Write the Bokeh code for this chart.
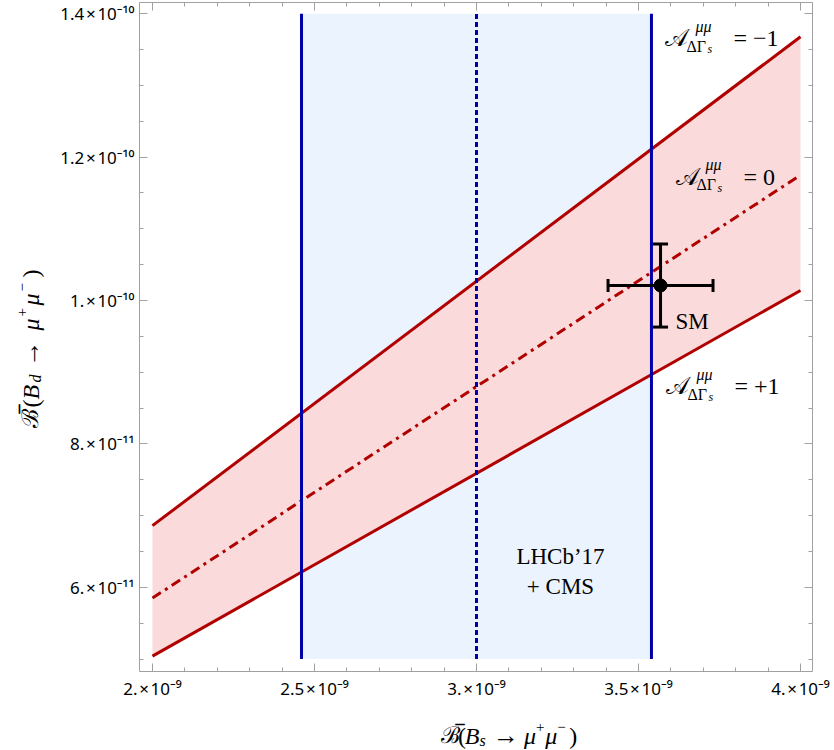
import math
from bokeh.plotting import figure
from bokeh.layouts import row, column
from bokeh.models import (Range1d, LinearAxis, FixedTicker, CustomJSTickFormatter,
                          Label, Whisker, ColumnDataSource, TeeHead)
from bokeh.embed import file_html
from bokeh.resources import INLINE

# ---------------- data ----------------
bs_values = [2.0e-9, 4.0e-9]                 # B(Bs->mumu) range of the band
bd_A_minus1 = [6.86e-11, 1.368e-10]          # A_DeltaGamma = -1
bd_A_zero = [5.85e-11, 1.175e-10]            # A_DeltaGamma = 0
bd_A_plus1 = [5.04e-11, 1.014e-10]           # A_DeltaGamma = +1

exp_bs_lo = [2.46e-9]
exp_bs_central = [3.00e-9]
exp_bs_hi = [3.54e-9]
exp_bd_lo = [5.0e-11]
exp_bd_hi = [1.4e-10]

sm_bs = [3.568e-9]
sm_bs_err = [0.162e-9]
sm_bd = [1.021e-10]
sm_bd_err = [0.058e-10]

x_ticks = [2.0e-9, 2.5e-9, 3.0e-9, 3.5e-9, 4.0e-9]
x_tick_labels = ["2.\u200a×\u200a10⁻⁹", "2.5\u200a×\u200a10⁻⁹", "3.\u200a×\u200a10⁻⁹",
                 "3.5\u200a×\u200a10⁻⁹", "4.\u200a×\u200a10⁻⁹"]
x_minor = [2.1e-9, 2.2e-9, 2.3e-9, 2.4e-9, 2.6e-9, 2.7e-9, 2.8e-9, 2.9e-9,
           3.1e-9, 3.2e-9, 3.3e-9, 3.4e-9, 3.6e-9, 3.7e-9, 3.8e-9, 3.9e-9]
y_ticks = [6.0e-11, 8.0e-11, 1.0e-10, 1.2e-10, 1.4e-10]
y_tick_labels = ["6.\u200a×\u200a10⁻¹¹", "8.\u200a×\u200a10⁻¹¹", "1.\u200a×\u200a10⁻¹⁰",
                 "1.2\u200a×\u200a10⁻¹⁰", "1.4\u200a×\u200a10⁻¹⁰"]
y_minor = [5.0e-11, 5.5e-11, 6.5e-11, 7.0e-11, 7.5e-11, 8.5e-11, 9.0e-11, 9.5e-11,
           1.05e-10, 1.10e-10, 1.15e-10, 1.25e-10, 1.30e-10, 1.35e-10]

RED = "#b00000"
BLUE = "#0000aa"
PINK = "#fadada"
LIGHTBLUE = "#ebf4fe"
GRAY = "#a0a0a0"
SERIF = "Liberation Serif"
TICKFONT = "Noto Sans"

YTITLE_W = 48
MAIN_W = 834 - YTITLE_W
MAIN_H = 702
XTITLE_H = 750 - MAIN_H

p = figure(width=MAIN_W, height=MAIN_H,
           x_range=Range1d(1.96e-9, 4.037e-9),
           y_range=Range1d(4.826e-11, 1.4157e-10),
           output_backend="svg", toolbar_location=None,
           min_border_left=139 - YTITLE_W, min_border_right=22,
           min_border_top=2, min_border_bottom=MAIN_H - 673)
p.xgrid.visible = False
p.ygrid.visible = False
p.outline_line_color = None
p.background_fill_color = "white"
p.border_fill_color = "white"

fmt_code = """
let best = 0; let bd = Infinity;
for (let i = 0; i < tvals.length; i++) {
  const d = Math.abs(tvals[i] - tick);
  if (d < bd) { bd = d; best = i; }
}
return tlabels[best];
"""


def style_axis(ax, ticks, minor, labels):
    ax.ticker = FixedTicker(ticks=ticks, minor_ticks=minor)
    ax.axis_line_color = GRAY
    ax.major_tick_line_color = GRAY
    ax.minor_tick_line_color = GRAY
    ax.major_tick_in = 8
    ax.major_tick_out = 0
    ax.minor_tick_in = 4
    ax.minor_tick_out = 0
    if labels is None:
        ax.formatter = CustomJSTickFormatter(code="return '';")
        ax.major_label_text_font_size = "0px"
        ax.major_label_standoff = 0
    else:
        ax.formatter = CustomJSTickFormatter(args=dict(tvals=ticks, tlabels=labels), code=fmt_code)
        ax.major_label_text_font = TICKFONT
        ax.major_label_text_font_size = "17px"
        ax.major_label_text_color = "black"
        ax.major_label_standoff = 5


style_axis(p.xaxis[0], x_ticks, x_minor, x_tick_labels)
style_axis(p.yaxis[0], y_ticks, y_minor, y_tick_labels)
top_ax = LinearAxis()
right_ax = LinearAxis()
style_axis(top_ax, x_ticks, x_minor, None)
style_axis(right_ax, y_ticks, y_minor, None)
p.add_layout(top_ax, "above")
p.add_layout(right_ax, "right")

# ---------------- glyphs ----------------
p.quad(left=exp_bs_lo, right=exp_bs_hi, bottom=exp_bd_lo, top=exp_bd_hi,
       fill_color=LIGHTBLUE, line_color=None)
p.varea(x=bs_values, y1=bd_A_plus1, y2=bd_A_minus1, fill_color=PINK)
p.line(bs_values, bd_A_minus1, line_color=RED, line_width=3)
p.line(bs_values, bd_A_plus1, line_color=RED, line_width=3)
p.line(bs_values, bd_A_zero, line_color=RED, line_width=3, line_dash="10 5 3 5")

p.segment(x0=exp_bs_lo + exp_bs_hi, y0=exp_bd_lo * 2, x1=exp_bs_lo + exp_bs_hi, y1=exp_bd_hi * 2,
          line_color=BLUE, line_width=3)
p.segment(x0=exp_bs_central, y0=exp_bd_lo, x1=exp_bs_central, y1=exp_bd_hi,
          line_color=BLUE, line_width=3, line_dash="5 3")

src = ColumnDataSource(dict(
    x=sm_bs, y=sm_bd,
    xlo=[a - b for a, b in zip(sm_bs, sm_bs_err)], xhi=[a + b for a, b in zip(sm_bs, sm_bs_err)],
    ylo=[a - b for a, b in zip(sm_bd, sm_bd_err)], yhi=[a + b for a, b in zip(sm_bd, sm_bd_err)],
))
wv = Whisker(source=src, base="x", lower="ylo", upper="yhi", dimension="height",
             line_color="black", line_width=3, level="overlay",
             upper_head=TeeHead(size=15, line_width=3, line_color="black"),
             lower_head=TeeHead(size=15, line_width=3, line_color="black"))
wh = Whisker(source=src, base="y", lower="xlo", upper="xhi", dimension="width",
             line_color="black", line_width=3, level="overlay",
             upper_head=TeeHead(size=13, line_width=3, line_color="black"),
             lower_head=TeeHead(size=13, line_width=3, line_color="black"))
p.add_layout(wv)
p.add_layout(wh)
p.scatter(x="x", y="y", source=src, size=13, color="black", level="overlay")


# ---------------- text ----------------
def add_text(fig, x, y, text, dx=0, dy=0, size=23, style="normal", angle=0.0, align="left", font=SERIF):
    fig.add_layout(Label(x=x, y=y, x_offset=dx, y_offset=dy, text=text, angle=angle,
                         text_font=font, text_font_size=f"{size}px", text_font_style=style,
                         text_align=align, text_baseline="alphabetic", text_color="black"))


def asym_label(x, y, rhs):
    add_text(p, x, y, "𝒜", 0, 0, 24)
    add_text(p, x, y, "μμ", 30, 12, 16, "italic")
    add_text(p, x, y, "ΔΓ", 21, -8, 16)
    add_text(p, x, y, "s", 42, -11, 12, "italic")
    add_text(p, x, y, rhs, 68, 0, 24)


asym_label(3.5833e-9, 1.3661e-10, "= −1")
asym_label(3.6142e-9, 1.1727e-10, "= 0")
asym_label(3.5864e-9, 0.8807e-10, "= +1")
add_text(p, 3.6142e-9, 0.9711e-10, "SM")
add_text(p, 3.2593e-9, 6.424e-11, "LHCb’17", align="center")
add_text(p, 3.2593e-9, 6.007e-11, "+ CMS", align="center")


# axis titles: small figures whose data units are pixels
def title_fig(w, h):
    f = figure(width=w, height=h, x_range=Range1d(0, w), y_range=Range1d(0, h),
               output_backend="svg", toolbar_location=None, min_border=0,
               x_axis_type=None, y_axis_type=None)
    f.xgrid.visible = False
    f.ygrid.visible = False
    f.outline_line_color = None
    f.border_fill_color = "white"
    f.background_fill_color = "white"
    return f


RUNS = [("ℬ̅", 0, 0, 23, "normal"), ("(", 20, 0, 24, "normal"), ("B", 28, 0, 24, "italic"),
        ("SUB", 45, -5, 16, "italic"), ("→", 61, 0, 26, "normal"), ("μ", 97, 0, 24, "italic"),
        ("+", 111, 9, 15, "normal"), ("μ", 122, 0, 24, "italic"), ("−", 136, 9, 15, "normal"),
        (")", 150, 0, 24, "normal")]

xt = title_fig(MAIN_W, XTITLE_H)
for t, a, d, s, st in RUNS:
    t = "s" if t == "SUB" else t
    add_text(xt, 400 - YTITLE_W + a, 750 - 735, t, 0, d, s, st)

yt = title_fig(YTITLE_W, 750)
for t, a, d, s, st in RUNS:
    t = "d" if t == "SUB" else t
    add_text(yt, 30 - d, 750 - 427 + a, t, 0, 0, s, st, angle=math.pi / 2)

layout = row(yt, column(p, xt, spacing=0), spacing=0)
open("out.html", "w").write(file_html(layout, INLINE))
